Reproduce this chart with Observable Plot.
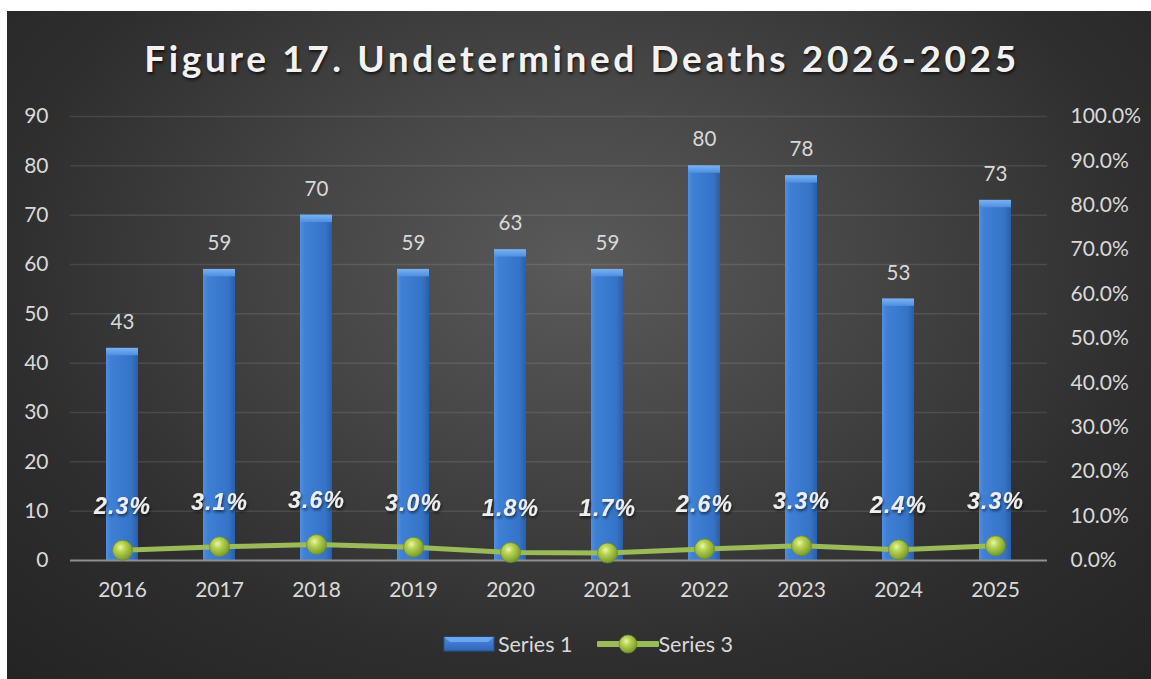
<!DOCTYPE html>
<html><head><meta charset="utf-8">
<script src="https://cdn.jsdelivr.net/npm/d3@7"></script>
<script src="https://cdn.jsdelivr.net/npm/@observablehq/plot@0.6"></script>
<style>
html,body{margin:0;padding:0;background:#fff;width:1151px;height:679px;overflow:hidden;font-family:Lato,sans-serif;}
#frame{position:absolute;left:7px;top:11px;width:1144px;height:668px;
  background:radial-gradient(ellipse 72% 85% at 50% 38%, #5a5a5a 0%, #454545 35%, #2e2e2e 70%, #242424 100%);}
#title{position:absolute;left:0;top:37px;width:1164px;text-align:center;font:bold 37px/42px Lato,sans-serif;
  letter-spacing:3.6px;color:#f2f2f2;text-shadow:1px 2px 3px rgba(0,0,0,0.7);white-space:nowrap;}
#chart{position:absolute;left:0;top:90px;}
#legend{position:absolute;left:0;top:631px;width:1175px;display:flex;justify-content:center;align-items:center;
  font:21.5px Lato,sans-serif;color:#d9d9d9;}
#legend svg{display:block}
</style></head>
<body>
<div id="frame"></div>
<div id="title">Figure 17. Undetermined Deaths 2026-2025</div>
<div id="chart"></div>
<div id="legend">
  <svg width="56" height="26" viewBox="0 0 56 26"><rect x="2" y="6" width="50" height="14" fill="url(#lgBar)" stroke="#24528f" stroke-width="1"/><polygon points="2,6 52,6 46,11 8,11" fill="#6aa6ee"/>
    <defs><linearGradient id="lgBar" x1="0" y1="0" x2="0" y2="1"><stop offset="0" stop-color="#4a8ae0"/><stop offset="1" stop-color="#2f66b6"/></linearGradient></defs></svg>
  <span style="margin-right:24px">Series 1</span>
  <svg width="62" height="26" viewBox="0 0 62 26"><line x1="2" y1="13" x2="60" y2="13" stroke="#9bbb59" stroke-width="6" stroke-linecap="round"/><circle cx="31" cy="13" r="9" fill="url(#lgBall)" stroke="#6f8a2a" stroke-width="0.8"/>
    <defs><radialGradient id="lgBall" cx="0.4" cy="0.35" r="0.65"><stop offset="0" stop-color="#eaf7a8"/><stop offset="0.35" stop-color="#b8d455"/><stop offset="1" stop-color="#789a2a"/></radialGradient></defs></svg>
  <span>Series 3</span>
</div>
<script>
const years = ["2016","2017","2018","2019","2020","2021","2022","2023","2024","2025"];
const deaths = [43,59,70,59,63,59,80,78,53,73];
const pctValues = [2.3,3.1,3.6,3.0,1.8,1.7,2.6,3.3,2.4,3.3];
const leftTicks = [0,10,20,30,40,50,60,70,80,90];
const rightTicks = [0,10,20,30,40,50,60,70,80,90,100];

// secondary axis: 0–100% shares the pixel range of 0–90
const ratio = 90 / 100;
const data = years.map((year, i) => ({year, deaths: deaths[i], pct: pctValues[i], pctY: pctValues[i] * ratio}));

const plot = Plot.plot({
  width: 1151,
  height: 520,
  marginLeft: 70,
  marginRight: 104,
  marginTop: 26,
  marginBottom: 50,
  style: {background: "transparent", color: "#d9d9d9", fontFamily: "Lato, sans-serif", fontSize: "20px", overflow: "visible"},
  x: {type: "band", domain: years, paddingInner: 0.67, paddingOuter: 0.335},
  y: {domain: [0, 90]},
  marks: [
    Plot.gridY(leftTicks.filter(t => t > 0), {stroke: "#ffffff", strokeOpacity: 0.1, strokeWidth: 1.5}),
    Plot.barY(data, {x: "year", y: "deaths", fill: "url(#barGrad)"}),
    Plot.barY(data, {x: "year", y1: d => d.deaths - 1.5, y2: "deaths", fill: "url(#bevelGrad)"}),
    Plot.ruleY([0], {stroke: "#8f8f8f", strokeWidth: 2}),
    Plot.line(data, {x: "year", y: "pctY", stroke: "#9bbb59", strokeWidth: 5}),
    Plot.dot(data, {x: "year", y: "pctY", r: 10, fill: "url(#ballGrad)", stroke: "#6f8a2a", strokeWidth: 0.8}),
    Plot.text(data, {x: "year", y: "deaths", text: d => String(d.deaths), dy: -26, fill: "#d9d9d9", fontSize: 20.5}),
    Plot.text(data, {x: "year", y: "pctY", text: d => d.pct.toFixed(1) + "%", dy: -44, fill: "#eeeeee",
      fontSize: 23, fontWeight: "bold", fontStyle: "italic", fontFamily: "Liberation Sans, Arial, sans-serif"}),
    Plot.axisY(leftTicks, {anchor: "left", tickSize: 0, tickPadding: 22, fontSize: 21, label: null}),
    Plot.axisY(rightTicks.map(t => t * ratio), {anchor: "right", tickSize: 0, tickPadding: 23, fontSize: 21, label: null,
      tickFormat: d => (d / ratio).toFixed(1) + "%"}),
    Plot.axisX({tickSize: 0, tickPadding: 22, fontSize: 21, label: null})
  ]
});

d3.select(plot).insert("defs", ":first-child").html(`
  <linearGradient id="barGrad" x1="0" y1="0" x2="1" y2="0">
    <stop offset="0" stop-color="#4f8fe2"/><stop offset="0.15" stop-color="#3f80d6"/>
    <stop offset="0.8" stop-color="#3573c6"/><stop offset="1" stop-color="#2a5ea8"/>
  </linearGradient>
  <linearGradient id="bevelGrad" x1="0" y1="0" x2="0" y2="1">
    <stop offset="0" stop-color="#7ab2f2"/><stop offset="1" stop-color="#4e8fe0"/>
  </linearGradient>
  <radialGradient id="ballGrad" cx="0.4" cy="0.35" r="0.65">
    <stop offset="0" stop-color="#eaf7a8"/><stop offset="0.35" stop-color="#b8d455"/><stop offset="1" stop-color="#789a2a"/>
  </radialGradient>
  <filter id="shadow" x="-20%" y="-20%" width="140%" height="160%">
    <feDropShadow dx="1" dy="2" stdDeviation="1.5" flood-color="#000" flood-opacity="0.6"/>
  </filter>`);

const textGroups = plot.querySelectorAll('g[aria-label="text"]');
if (textGroups.length) {
  const g = textGroups[textGroups.length - 1];
  g.setAttribute("filter", "url(#shadow)");
  g.setAttribute("letter-spacing", "1.2");
}

document.getElementById("chart").appendChild(plot);
</script>
</body></html>
